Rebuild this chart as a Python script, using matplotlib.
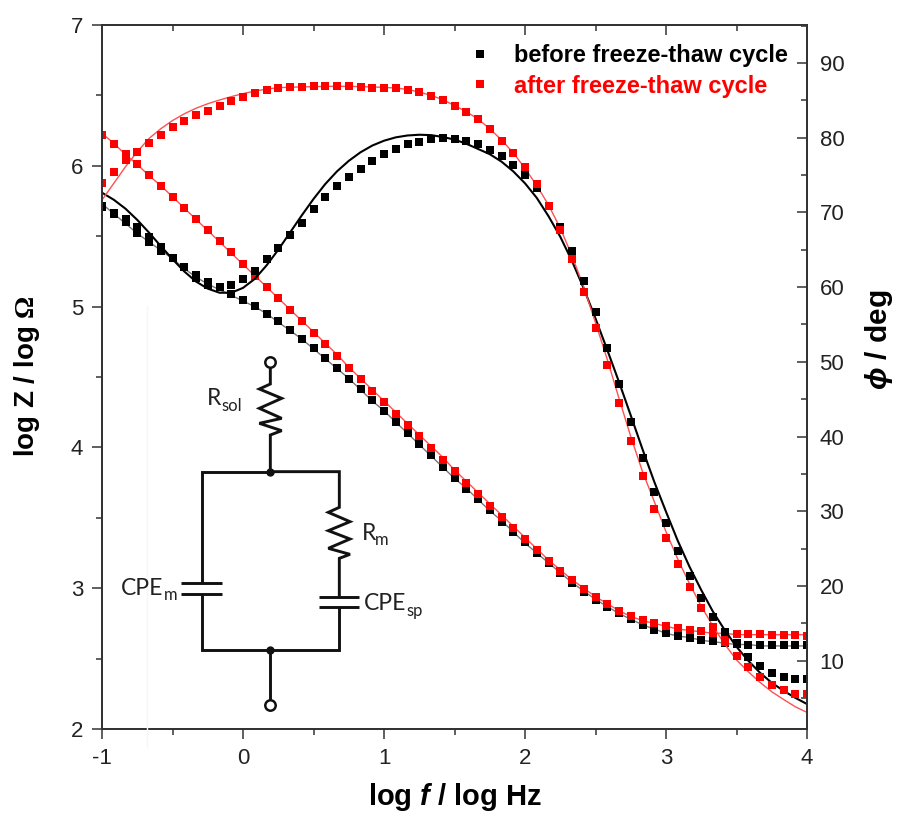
import matplotlib
matplotlib.use('Agg')
import matplotlib.pyplot as plt
import numpy as np
from matplotlib.ticker import MultipleLocator

plt.rcParams['font.family'] = ['Liberation Sans', 'DejaVu Sans']
plt.rcParams['axes.unicode_minus'] = False
plt.rcParams['mathtext.fontset'] = 'custom'
plt.rcParams['mathtext.rm'] = 'Liberation Serif:bold'
plt.rcParams['mathtext.bf'] = 'Liberation Sans:bold'
plt.rcParams['mathtext.bfit'] = 'Liberation Sans:italic:bold'

# 12 points per decade, log f from -1 to 4
log_f = -1 + np.arange(61) / 12

z_before = [5.714,5.662,5.598,5.525,5.461,5.397,5.343,5.279,5.201,5.153,5.137,5.089,5.047,5.004,4.950,4.895,
            4.834,4.772,4.707,4.633,4.562,4.486,4.413,4.334,4.256,4.178,4.100,4.024,3.943,3.864,3.785,3.705,
            3.632,3.556,3.473,3.397,3.331,3.248,3.177,3.106,3.040,2.976,2.917,2.864,2.822,2.780,2.739,2.704,
            2.680,2.661,2.644,2.635,2.625,2.614,2.602,2.600,2.598,2.597,2.596,2.595,2.595]
z_after = [6.219,6.152,6.084,6.010,5.932,5.857,5.778,5.703,5.622,5.544,5.466,5.385,5.303,5.220,5.142,5.059,
           4.976,4.895,4.815,4.733,4.649,4.566,4.486,4.403,4.323,4.240,4.159,4.080,3.995,3.911,3.833,3.750,
           3.667,3.587,3.508,3.430,3.350,3.272,3.196,3.125,3.056,2.996,2.936,2.887,2.841,2.805,2.775,2.751,
           2.732,2.715,2.701,2.696,2.685,2.676,2.673,2.673,2.672,2.671,2.670,2.668,2.664]
phase_before = [70.77,69.8,69.07,68.0,66.66,65.32,63.85,62.65,61.62,60.73,60.06,60.28,61.04,62.15,63.72,65.28,
                66.93,68.62,70.45,72.06,73.49,74.78,75.81,76.93,77.77,78.49,79.11,79.47,79.78,79.96,79.87,79.6,
                79.1,78.35,77.55,76.35,75.0,73.22,70.8,68.1,64.8,60.85,56.62,51.9,47.03,41.99,37.08,32.52,
                28.37,24.67,21.32,18.42,15.88,13.87,12.3,10.52,9.27,8.38,7.76,7.49,7.53]
phase_after = [73.98,75.41,77.0,78.13,79.34,80.36,81.39,82.28,83.04,83.62,84.2,84.87,85.4,85.98,86.34,86.61,
               86.74,86.74,86.88,86.92,86.92,86.92,86.79,86.7,86.61,86.61,86.39,86.07,85.63,85.05,84.24,83.49,
               82.46,81.16,79.6,78.0,76.03,73.8,70.9,67.6,63.76,59.34,54.52,49.62,44.53,39.44,34.7,30.3,
               26.45,22.97,19.85,17.0,14.54,12.53,10.6,9.1,7.8,6.78,6.06,5.53,5.53]

# fitted curves
z_before_fit = [5.73,5.66,5.59,5.52,5.46,5.40,5.34,5.27,5.21,5.16,5.12,5.08,5.04,5.00,4.95,4.89,4.83,4.77,4.70,4.63,
                4.56,4.49,4.41,4.33,4.26,4.18,4.10,4.02,3.94,3.86,3.78,3.71,3.63,3.55,3.48,3.40,3.32,3.25,3.18,3.11,
                3.04,2.98,2.92,2.87,2.82,2.78,2.74,2.71,2.68,2.66,2.65,2.63,2.62,2.61,2.60,2.60,2.59,2.59,2.59,2.59,2.59]
z_after_fit = [6.23,6.16,6.08,6.01,5.93,5.86,5.78,5.70,5.62,5.54,5.46,5.38,5.30,5.22,5.14,5.06,4.98,4.90,4.82,4.74,
               4.66,4.57,4.49,4.41,4.33,4.25,4.17,4.09,4.01,3.93,3.84,3.76,3.68,3.60,3.52,3.44,3.36,3.28,3.20,3.13,
               3.06,3.00,2.94,2.89,2.84,2.80,2.77,2.75,2.73,2.71,2.70,2.69,2.68,2.68,2.67,2.67,2.67,2.67,2.67,2.67,2.67]
phase_before_fit = [72.64,71.7,70.5,69.0,67.3,65.5,63.75,62.1,60.75,59.8,59.25,59.25,59.9,61.1,62.9,65.0,
                    67.3,69.6,71.8,73.8,75.5,76.9,78.05,78.95,79.6,80.05,80.3,80.4,80.35,80.1,79.75,79.2,
                    78.5,77.8,76.8,75.5,73.9,71.95,69.5,66.75,63.5,59.83,55.8,51.6,47.3,42.83,38.3,33.95,
                    29.94,26.05,22.57,19.45,16.55,14.09,11.86,9.99,8.38,7.04,5.97,5.03,4.19]
phase_after_fit = [71.66,73.89,76.12,78.13,79.9,81.2,82.3,83.2,83.95,84.55,85.05,85.5,85.9,86.25,86.5,86.7,
                   86.76,86.8,86.84,86.88,86.88,86.88,86.84,86.8,86.74,86.65,86.47,86.11,85.67,85.1,84.3,83.5,
                   82.5,81.2,79.7,78.0,75.9,73.6,71.0,67.9,64.2,60.0,55.24,50.33,45.11,40.0,35.3,31.3,
                   27.26,23.6,20.3,17.3,14.6,12.2,10.1,8.52,7.09,5.84,4.81,3.83,3.07]

labels = ['before freeze-thaw cycle', 'after freeze-thaw cycle']

fig = plt.figure(figsize=(8.97, 8.14), dpi=100)
ax = fig.add_axes([102/897, 1-729/814, 705/897, 704/814])
ax2 = ax.twinx()

spine = '#333333'
text_col = '#222222'
ms = 6.2

ax.plot(log_f, z_before_fit, color='#777777', lw=1)
ax.plot(log_f, z_after_fit, color='#ff5050', lw=1)
ax.plot(log_f, z_before, 's', color='black', ms=ms, mew=0)
ax.plot(log_f, z_after, 's', color='red', ms=ms, mew=0)

ax2.plot(log_f, phase_before_fit, color='black', lw=1.5)
ax2.plot(log_f, phase_after_fit, color='#ff5050', lw=1)
h1, = ax2.plot(log_f, phase_before, 's', color='black', ms=ms, mew=0)
h2, = ax2.plot(log_f, phase_after, 's', color='red', ms=ms, mew=0)

ax.set_xlim(-1, 4)
ax.set_ylim(2, 7)
ax2.set_ylim(0.85, 95.09)

ax.xaxis.set_major_locator(MultipleLocator(1))
ax.xaxis.set_minor_locator(MultipleLocator(0.5))
ax.yaxis.set_major_locator(MultipleLocator(1))
ax.yaxis.set_minor_locator(MultipleLocator(0.5))
ax2.yaxis.set_major_locator(MultipleLocator(10))
ax2.yaxis.set_minor_locator(MultipleLocator(5))

ax.tick_params(which='major', length=7.5, width=1.1, color=spine, labelsize=16, labelcolor=text_col, pad=6)
ax.tick_params(which='minor', length=4, width=1.1, color=spine)
ax.tick_params(axis='x', pad=6)
ax2.tick_params(which='major', direction='in', length=7.5, width=1.1, color=spine, labelsize=16,
                labelcolor=text_col, pad=9)
ax2.tick_params(which='minor', direction='in', length=4, width=1.1, color=spine)

top = ax.secondary_xaxis('top')
top.xaxis.set_major_locator(MultipleLocator(1))
top.xaxis.set_minor_locator(MultipleLocator(0.5))
top.tick_params(which='major', direction='in', length=7.5, width=1.1, color=spine, labeltop=False)
top.tick_params(which='minor', direction='in', length=4, width=1.1, color=spine)
top.spines['top'].set_color(spine)
top.spines['top'].set_linewidth(1.3)

for a in (ax, ax2):
    for s in a.spines.values():
        s.set_color(spine)
        s.set_linewidth(1.3)

# overlay in image pixels, for the labels and the equivalent circuit
ov = fig.add_axes([0, 0, 1, 1], zorder=5)
ov.set_xlim(0, 897)
ov.set_ylim(814, 0)
ov.axis('off')
ov.patch.set_alpha(0)

ov.text(455, 805, r'log $\mathbfit{f}$ / log Hz', fontsize=21, fontweight='bold', ha='center', va='baseline')
ov.text(27, 376, r'log Z / log $\mathrm{\Omega}$', fontsize=20, fontweight='bold', ha='center', va='center',
        rotation=90)
ov.text(879, 340, r'$\mathbfit{\phi}$ / deg', fontsize=21.5, fontweight='bold', ha='center', va='center',
        rotation=90)

ov.plot([147, 147], [306, 747], color='#f7f7f7', lw=1)

leg = ax2.legend([h1, h2], labels, loc='upper left', bbox_to_anchor=(0.519, 0.973), frameon=False,
                 labelcolor=['black', 'red'], handlelength=1, handletextpad=0.94,
                 labelspacing=0.32, borderaxespad=0, borderpad=0, numpoints=1,
                 prop={'weight': 'bold', 'size': 17})


def cx(z):
    return 100 + np.array(z) / 3


def cy(z):
    return 340 + np.array(z) / 3


def wire(zx, zy):
    ov.plot(cx(zx), cy(zy), color='#111111', lw=2.1, solid_joinstyle='miter', solid_capstyle='butt')


wire([511, 511, 478, 545, 478, 545, 478, 545, 511, 511], [82, 132, 147, 175, 205, 235, 250, 272, 285, 395])
wire([511, 305, 305], [395, 395, 730])
wire([511, 718, 718, 685, 750, 685, 750, 685, 750, 718, 718], [395, 395, 502, 517, 545, 572, 597, 625, 643, 655, 770])
wire([305, 305, 718, 718], [762, 930, 930, 802])
wire([511, 511], [930, 1080])
wire([243, 367], [730, 730])
wire([243, 367], [762, 762])
wire([657, 778], [770, 770])
wire([657, 778], [802, 802])
ov.plot(cx([511, 511]), cy([395, 930]), 'o', color='#111111', ms=6, mew=0)
ov.plot(cx([511, 511]), cy([65, 1095]), 'o', mfc='white', mec='#111111', ms=7.5, mew=1.8)


def circuit_label(zx, zy, main, sub_zx, sub_zy, sub):
    ov.text(cx(zx), cy(zy), main, family='Lato', fontsize=16.5, color='#222222', va='baseline')
    ov.text(cx(sub_zx), cy(sub_zy), sub, family='Lato', fontsize=12, color='#222222', va='baseline')


circuit_label(320, 195, 'R', 365, 213, 'sol')
circuit_label(785, 600, 'R', 826, 615, 'm')
circuit_label(62, 765, 'CPE', 193, 780, 'm')
circuit_label(793, 810, 'CPE', 920, 828, 'sp')

fig.savefig('out.png', dpi=100)
